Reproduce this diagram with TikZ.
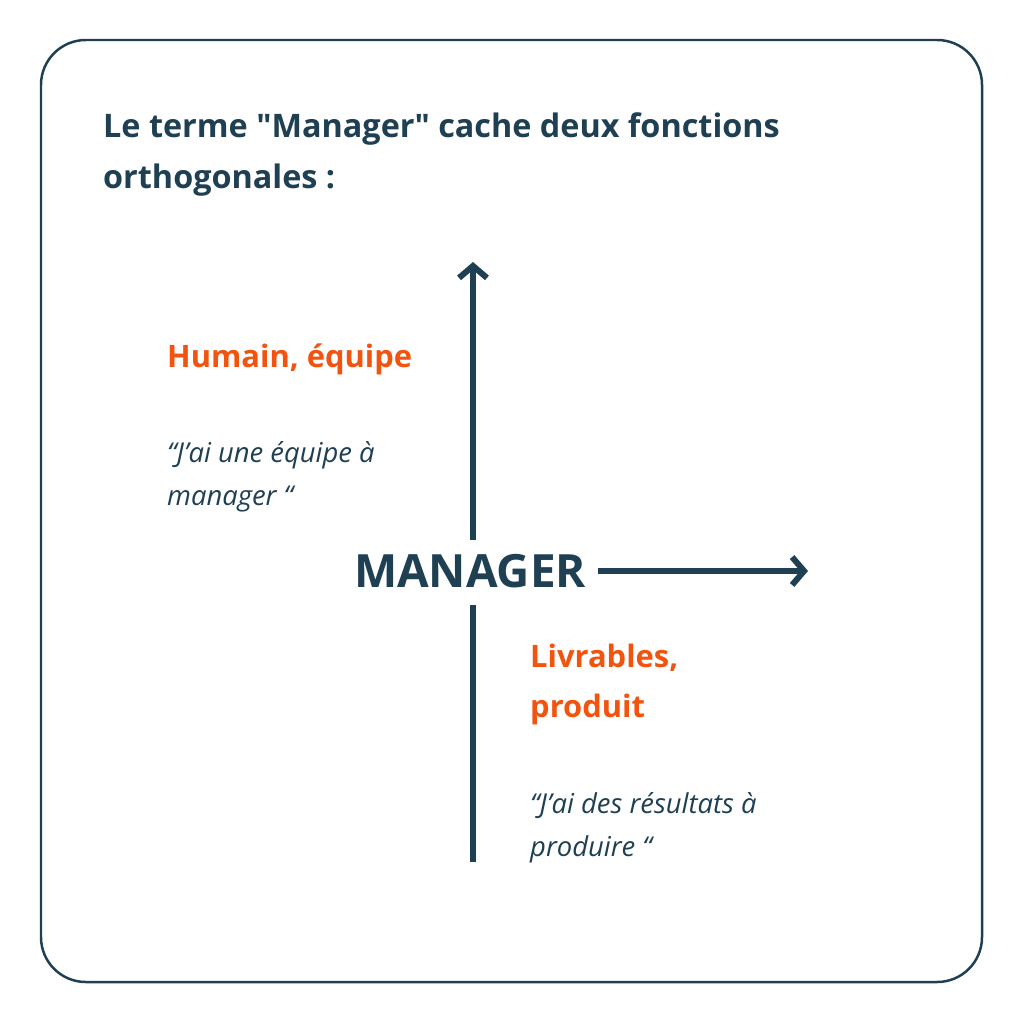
\documentclass[tikz,border=0pt]{standalone}
\usepackage{fontspec}
\setmainfont{Open Sans}[Ligatures=Common]
\usetikzlibrary{positioning,arrows.meta}
\definecolor{navy}{HTML}{1F3F52}
\definecolor{orangeT}{HTML}{F25410}
\begin{document}
\begin{tikzpicture}[x=1bp,y=-1bp]

\tikzstyle{title}=[anchor=base west,inner sep=0pt,text=navy,font=\fontsize{32.5}{51}\selectfont\bfseries,align=left]
\tikzstyle{heading}=[anchor=base west,inner sep=0pt,text=orangeT,font=\fontsize{31}{50}\selectfont\bfseries,align=left]
\tikzstyle{quote}=[anchor=base west,inner sep=0pt,text=navy,font=\fontsize{27.5}{43}\selectfont\itshape,align=left]
\tikzstyle{axis}=[navy,line width=6,-{Straight Barb[length=12,width=28,line width=6]}]

\useasboundingbox (0,0) rectangle (1024,1024);
%Frame
\draw[navy,line width=2.5,rounded corners=45] (41,40) rectangle (982,982);

\node[title] (head) at (103,188) {Le terme \textquotedbl Manager\textquotedbl{} cache deux fonctions\\orthogonales :};

\node[text=navy,font=\fontsize{46}{50}\selectfont\bfseries,inner sep=0pt] (manager) at (470,571) {MANAGER};

\coordinate (vtop) at (473,262);
\coordinate (vbot) at (473,862);
\coordinate (vgap) at (473,605);
\coordinate (vgaptop) at (473,540);
\coordinate (hend) at (808,571);
\coordinate (hstart) at (598,571);

\draw[axis] (vgaptop) -- (vtop);
\draw[navy,line width=6] (vgap) -- (vbot);
\draw[axis] (hstart) -- (hend);

\node[heading] (human) at (167,367) {Humain, équipe};
\node[quote] (humanq) at (167,505) {“J’ai une équipe à\\manager “};

\node[heading] (deliv) at (530,717) {Livrables,\\produit};
\node[quote] (delivq) at (530,856) {“J’ai des résultats à\\produire “};

\end{tikzpicture}
\end{document}
